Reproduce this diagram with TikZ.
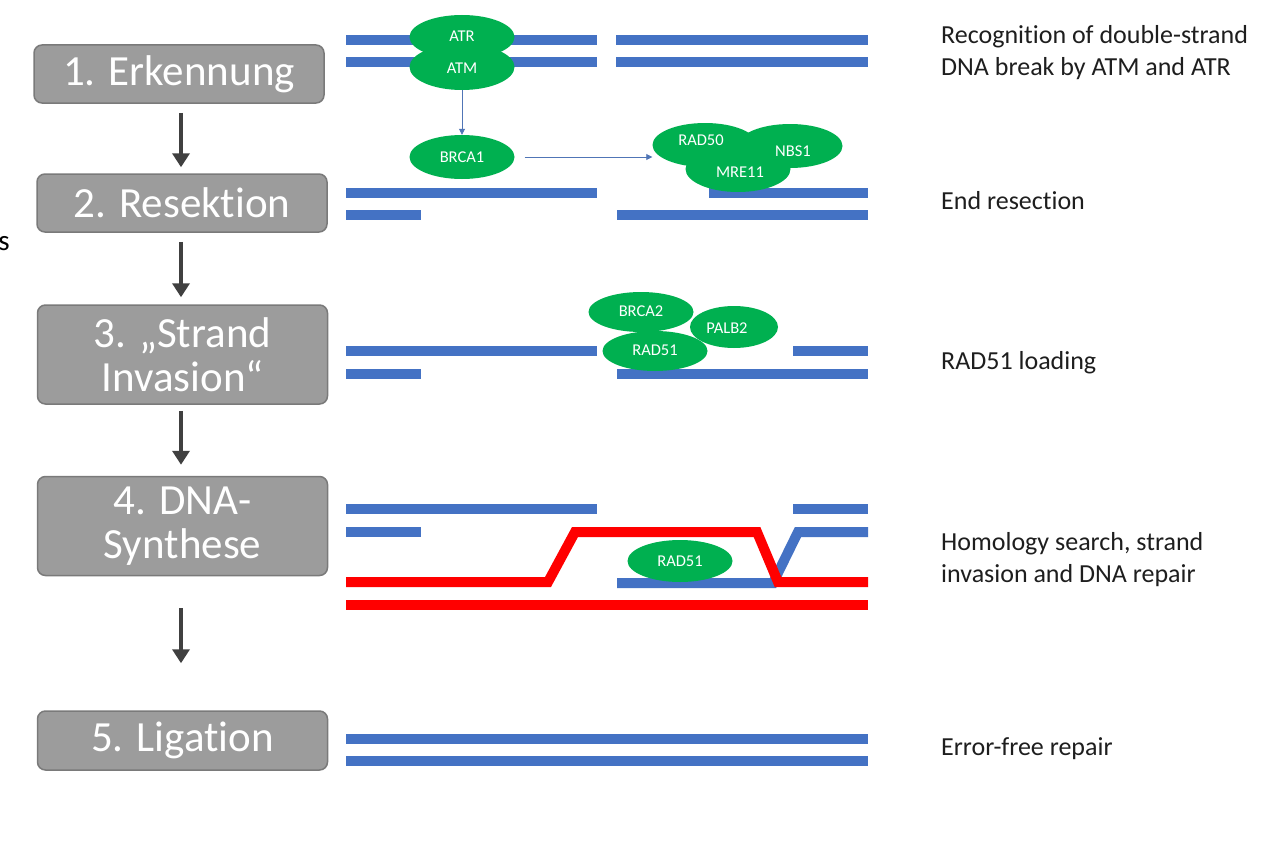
\documentclass[tikz,border=0pt]{standalone}
\usepackage{fontspec}
\setmainfont{Carlito}[Ligatures=NoCommon]
\usetikzlibrary{shapes.geometric,arrows.meta}
\definecolor{dnablue}{HTML}{4472C4}
\definecolor{dnared}{HTML}{FF0000}
\definecolor{prot}{HTML}{00B050}
\definecolor{boxfill}{HTML}{9C9C9C}
\definecolor{boxline}{HTML}{7A7A7A}
\definecolor{arrowgray}{HTML}{404040}
\definecolor{labeltext}{HTML}{1E1E1E}
\tikzset{
  stepbox/.style={draw=boxline, line width=1.5pt, fill=boxfill, rounded corners=8pt,
    minimum width=290pt, text=white, align=center,
    font=\fontsize{43}{44}\selectfont, inner sep=0pt},
  steparrow/.style={draw=arrowgray, line width=4pt, -{Triangle[width=17pt,length=14pt]}},
  strand/.style={draw=dnablue, line width=10pt},
  redstrand/.style={draw=dnared, line width=10pt},
  protein/.style={ellipse, fill=prot, draw=none, minimum width=105pt, minimum height=42pt,
    inner sep=0pt, text=white, font=\fontsize{16.5}{18}\selectfont},
  plabel/.style={text=white, font=\fontsize{16.5}{18}\selectfont, inner sep=0pt},
  signal/.style={draw=dnablue!80!gray, line width=0.8pt, -{Triangle[width=6pt,length=6pt]}},
  desc/.style={anchor=west, align=left, text=labeltext, font=\fontsize{26}{32}\selectfont, inner sep=0pt}
}
\begin{document}
\begin{tikzpicture}[x=1pt,y=-1pt]
\useasboundingbox (0,0) rectangle (1269,843);
\fill[white] (0,0) rectangle (1269,843);

% left margin fragment
\node[text=black, font=\fontsize{29}{32}\selectfont, inner sep=0pt] (frag) at (4,244) {s};

% step boxes
\node[stepbox, minimum height=58pt] (s1) at (179,74) {1. Erkennung};
\node[stepbox, minimum height=58pt] (s2) at (182,203) {2. Resektion};
\node[stepbox, minimum height=99pt] (s3) at (182.5,354.5) {3. „Strand\\Invasion“};
\node[stepbox, minimum height=99pt] (s4) at (182.5,526) {4. DNA-\\Synthese};
\node[stepbox, minimum height=59pt] (s5) at (182.5,740.5) {5. Ligation};

\draw[steparrow, shorten <=9pt, shorten >=6pt] (s1.south -| 181,0) -- (s2.north -| 181,0);
\draw[steparrow, shorten <=9pt, shorten >=7pt] (s2.south -| 181,0) -- (s3.north -| 181,0);
\draw[steparrow, shorten <=6pt, shorten >=11pt] (s3.south -| 181,0) -- (s4.north -| 181,0);
\draw[steparrow, shorten <=32pt, shorten >=47pt] (s4.south -| 181,0) -- (s5.north -| 181,0);

% ---- step 1 strands
\draw[strand] (346,40) -- (597,40);
\draw[strand] (346,62) -- (597,62);
\draw[strand] (616,40) -- (868,40);
\draw[strand] (616,62) -- (868,62);
\node[protein, minimum height=44pt] (atr) at (462,37) {};
\node[protein, minimum height=46pt] (atm) at (462,67) {};
\node[plabel] (atrlab) at (462,36) {ATR};
\node[plabel] (atmlab) at (462,68) {ATM};

% ---- step 2
\draw[strand] (346,193) -- (597,193);
\draw[strand] (346,215) -- (421,215);
\draw[strand] (709,193) -- (868,193);
\draw[strand] (617,215) -- (868,215);
\node[protein, minimum height=44pt] (brca1) at (462,157) {BRCA1};
\node[protein, minimum height=44pt] (rad50) at (705,145) {};
\node[protein, minimum height=44pt] (nbs1) at (790,146) {};
\node[protein, minimum height=46pt] (mre11) at (738,169) {};
\node[plabel] (rad50lab) at (701,140) {RAD50};
\node[plabel] (nbs1lab) at (793,151) {NBS1};
\node[plabel] (mre11lab) at (740,172) {MRE11};
\draw[signal] (atm) -- (brca1);
\draw[signal, shorten <=10pt] (brca1.east) -- (rad50.west |- brca1.east);

% ---- step 3
\draw[strand] (346,351) -- (597,351);
\draw[strand] (346,374) -- (421,374);
\draw[strand] (793,351) -- (868,351);
\draw[strand] (617,374) -- (868,374);
\node[protein, minimum height=40pt] (brca2) at (641,312) {};
\node[protein, minimum width=88pt, minimum height=42pt] (palb2) at (734,327) {};
\node[protein, minimum height=40pt] (rad51a) at (655,351) {};
\node[plabel] (brca2lab) at (641,311) {BRCA2};
\node[plabel] (palb2lab) at (727,328) {PALB2};
\node[plabel] (rad51alab) at (655,350) {RAD51};

% ---- step 4
\draw[strand] (346,509) -- (597,509);
\draw[strand] (346,532) -- (421,532);
\draw[strand] (793,509) -- (868,509);
\draw[strand] (868,532) -- (798,532) -- (773,583) -- (617,583);
\node[protein] (rad51b) at (680,561) {RAD51};
\draw[redstrand] (346,582) -- (548,582) -- (575,532) -- (757,532) -- (778,582) -- (868,582);
\draw[redstrand] (346,605) -- (868,605);

% ---- step 5
\draw[strand] (346,739) -- (868,739);
\draw[strand] (346,761) -- (868,761);

% descriptions
\node[desc] (d1) at (941,53) {Recognition of double-strand\\DNA break by ATM and ATR};
\node[desc] (d2) at (941,201) {End resection};
\node[desc] (d3) at (941,363) {RAD51 loading};
\node[desc] (d4) at (941,560) {Homology search, strand\\invasion and DNA repair};
\node[desc] (d5) at (941,749) {Error-free repair};
\end{tikzpicture}
\end{document}
